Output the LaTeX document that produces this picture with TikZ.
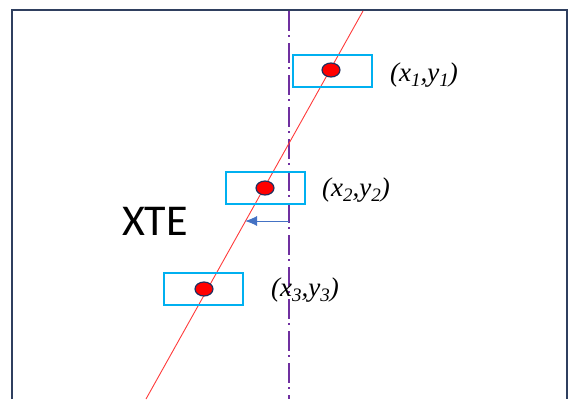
\documentclass[tikz,border=0pt]{standalone}
\usepackage{fontspec}
\setmainfont{Liberation Serif}
\newfontfamily\xtefont{Carlito}
\usepackage{tikz}
\usetikzlibrary{shapes.geometric, arrows.meta, positioning}
\usepackage{xcolor}
\definecolor{framecolor}{HTML}{2F3F5F}
\definecolor{axiscolor}{HTML}{7030A0}
\definecolor{boxcolor}{HTML}{00B0F0}
\definecolor{pointcolor}{HTML}{FF0000}
\definecolor{pointedge}{HTML}{1F2F5F}
\definecolor{trackcolor}{HTML}{FF3B3B}
\definecolor{xtecolor}{HTML}{4472C4}
\newcommand{\ptidx}[1]{\raisebox{-5pt}{\fontsize{19}{20}\selectfont #1}}

\begin{document}
\begin{tikzpicture}[x=1pt, y=-1pt,
    window/.style={draw=boxcolor, line width=1.8pt, minimum width=79pt, minimum height=32pt, inner sep=0pt},
    point/.style={ellipse, draw=pointedge, fill=pointcolor, line width=1.2pt, minimum width=18pt, minimum height=14pt, inner sep=0pt},
    coord/.style={font=\fontsize{27}{30}\selectfont\itshape, inner sep=0pt, anchor=west},
    axis/.style={draw=axiscolor, line width=1.6pt, dash pattern=on 20pt off 4pt on 2pt off 6pt},
    track/.style={draw=trackcolor, line width=0.9pt},
    arrow/.style={-{Latex[length=12pt, width=10pt]}, draw=xtecolor, fill=xtecolor, line width=1pt},
]
\useasboundingbox (0,0) rectangle (569,399);

% Frame
\draw[framecolor, line width=2pt] (11.5,399) -- (11.5,10) -- (566.5,10) -- (566.5,399);

% Reference line
\coordinate (axtop) at (289,11);
\coordinate (axbot) at (289,399);
\draw[axis] (axtop) -- (axbot);

% Track
\coordinate (trtop) at (363,11);
\coordinate (trbot) at (146,399);
\draw[track] (trtop) -- (trbot);

% Windows
\node[window] (w1) at (332.5,71) {};
\node[window] (w2) at (265.5,188) {};
\node[window] (w3) at (203.5,289) {};

% Points
\node[point] (p1) at (331,70) {};
\node[point] (p2) at (265,188) {};
\node[point] (p3) at (204,289) {};

% Labels
\node[coord] (l1) at (390,75) {(x\ptidx{1},y\ptidx{1})};
\node[coord] (l2) at (322,190) {(x\ptidx{2},y\ptidx{2})};
\node[coord] (l3) at (271,290) {(x\ptidx{3},y\ptidx{3})};

% Cross-track error
\coordinate (xs) at (289,221);
\coordinate (xe) at (245,221);
\draw[arrow] (xs) -- (xe);
\node[font=\xtefont\fontsize{44}{48}\selectfont, inner sep=0pt] (xte) at (155,221) {XTE};

\end{tikzpicture}
\end{document}
